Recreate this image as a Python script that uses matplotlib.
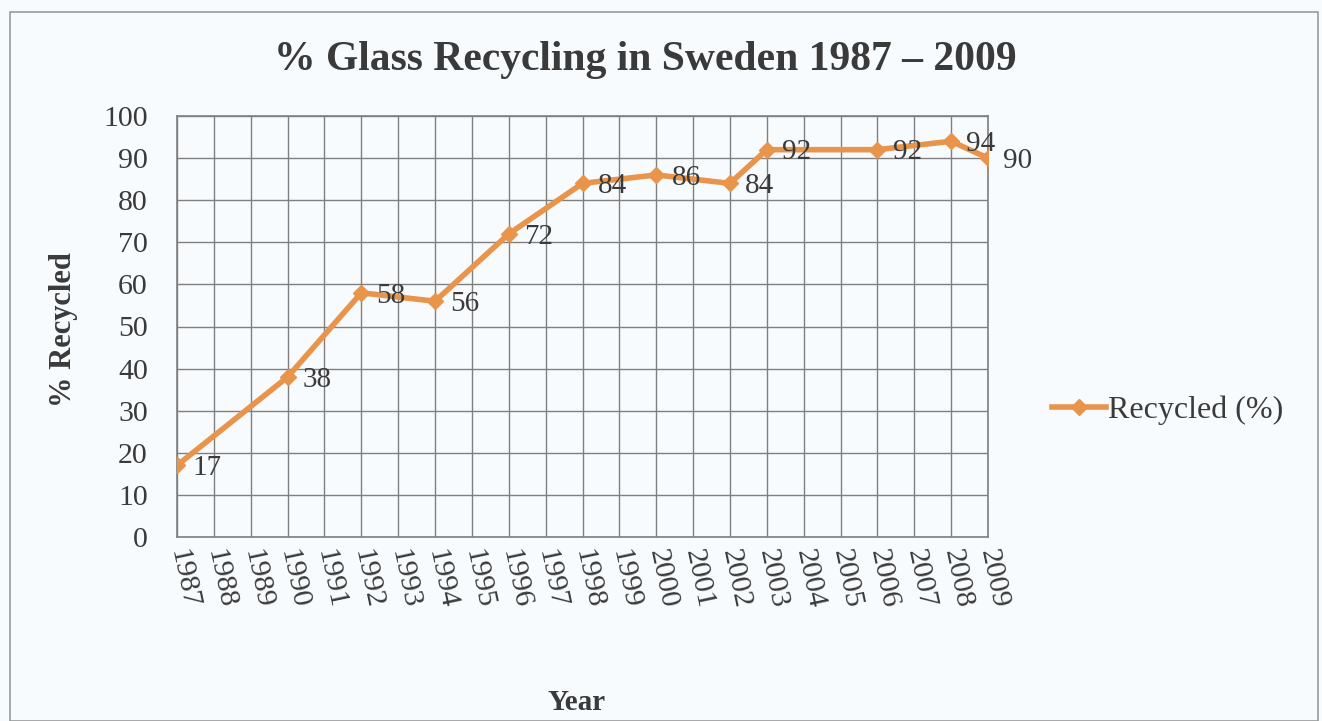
import numpy as np
import matplotlib.pyplot as plt
from matplotlib.patches import Rectangle

# Dados
years = list(range(1987, 2010))
data_years = [1987, 1990, 1992, 1994, 1996, 1998, 2000, 2002, 2003, 2006, 2008, 2009]
recycled = [17, 38, 58, 56, 72, 84, 86, 84, 92, 92, 94, 90]

orange = '#E8944A'
txt = '#3a3a3a'
bg = '#f8fbfd'

plt.rcParams['font.family'] = ['Liberation Serif', 'DejaVu Serif']

fig = plt.figure(figsize=(13.22, 7.21), dpi=100, facecolor=bg)
ax = fig.add_axes([177/1322, 1-537/721, (988-177)/1322, (537-116)/721])
ax.set_facecolor(bg)

# outer chart frame
fig.patches.append(Rectangle((10/1322, 0), 1308/1322, 1-12/721, transform=fig.transFigure,
                             fill=False, edgecolor='#9a9a9a', lw=1.2))

xpos = [years.index(y) for y in data_years]
ax.plot(xpos, recycled, color=orange, lw=4, marker='D', ms=8,
        markeredgecolor=orange, label='Recycled (%)', zorder=3)

for x, v in zip(xpos, recycled):
    ax.annotate(str(v), (x, v), xytext=(11, -2), textcoords='offset points',
                ha='left', va='center', fontsize=21, color=txt, zorder=4)

ax.set_xlim(0, len(years)-1)
ax.set_ylim(0, 100)
ax.set_xticks(range(len(years)))
ax.set_xticklabels([str(y) for y in years], rotation=-78, rotation_mode='anchor',
                   ha='left', va='center', fontsize=21.5, color=txt)
ax.set_yticks(np.arange(0, 101, 10))
ax.tick_params(axis='y', labelsize=21.5, labelcolor=txt, length=0, pad=21)
ax.tick_params(axis='x', length=0, pad=9)
ax.grid(True, color='#7f7f7f', lw=1.0)
ax.set_axisbelow(True)
for s in ax.spines.values():
    s.set_color('#7f7f7f')
    s.set_linewidth(1.2)

fig.text(64/1322, 1-330/721, '% Recycled', ha='center', va='center', rotation=90,
         fontsize=22, fontweight='bold', color=txt)
fig.text(577/1322, 1-703/721, 'Year', ha='center', va='center', fontsize=21,
         fontweight='bold', color=txt)
fig.text(645/1322, 1-60/721, '% Glass Recycling in Sweden 1987 \u2013 2009', ha='center',
         va='center', fontsize=30, fontweight='bold', color=txt)

ax.legend(loc='center left', bbox_to_anchor=(1036/1322, 1-410/721),
          bbox_transform=fig.transFigure, frameon=False, fontsize=23,
          handlelength=1.7, handletextpad=0.05, labelcolor=txt, borderpad=0)

plt.savefig('out.png', dpi=100, facecolor=bg)
